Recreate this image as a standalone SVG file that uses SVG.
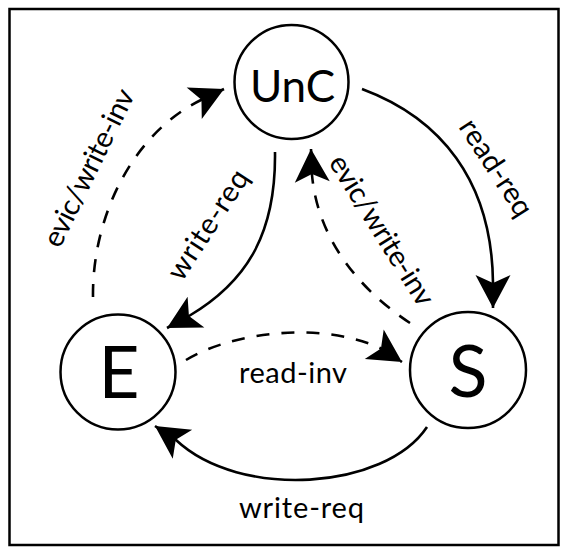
<svg xmlns="http://www.w3.org/2000/svg" width="567" height="548" viewBox="0 0 567 548">
  <style>
    .node { fill: #fff; stroke: #000; stroke-width: 2.5; }
    .ntext { font-family: "Lato", "Open Sans", sans-serif; fill: #000; text-anchor: middle; }
    .edge { fill: none; stroke: #000; stroke-width: 2.6; marker-end: url(#arrow); }
    .dash { stroke-dasharray: 13 12; }
    .label { font-family: "Lato", "Open Sans", sans-serif; font-size: 29px; fill: #000; text-anchor: middle; }
  </style>
  <defs>
    <marker id="arrow" markerUnits="userSpaceOnUse" viewBox="-35 -20 37 40" markerWidth="37" markerHeight="40" refX="0" refY="0" orient="auto">
      <path d="M0,0 L-33,-17.5 L-25,0 L-33,17.5 Z" fill="#000" stroke="none"/>
    </marker>
  </defs>
  <rect x="9.5" y="9" width="549" height="536" fill="#fff" stroke="#000" stroke-width="2.5"/>

  <g id="connectors">
    <path id="e-unc" class="edge dash" d="M93,297 C92,220 130,135 201,100 L224,89"/>
    <path id="unc-e" class="edge" d="M275,152 C276,230 250,280 189,316 L167,328"/>
    <path id="unc-s" class="edge" d="M362,89 C440,118 492,180 493,283 L493,308"/>
    <path id="s-unc" class="edge dash" d="M410,323 C360,290 318,240 312,175 L311,149"/>
    <path id="e-s" class="edge dash" d="M186,360 C230,333 320,320 381,348.5 L402,362"/>
    <path id="s-e" class="edge" d="M427,427 C385,490 240,500 176,440 L155,426"/>
    <text class="label" transform="translate(97.5,172) rotate(-64)" textLength="172" lengthAdjust="spacing">evic/write-inv</text>
    <text class="label" transform="translate(216,230) rotate(-57)" textLength="125" lengthAdjust="spacing">write-req</text>
    <text class="label" transform="translate(488,173) rotate(57)" textLength="110" lengthAdjust="spacing">read-req</text>
    <text class="label" transform="translate(373.5,235.5) rotate(58)" textLength="172" lengthAdjust="spacing">evic/write-inv</text>
    <text class="label" x="293" y="383" textLength="108" lengthAdjust="spacing">read-inv</text>
    <text class="label" x="301.5" y="518" textLength="125" lengthAdjust="spacing">write-req</text>
  </g>

  <g id="node-unc">
    <circle class="node" cx="291.5" cy="82" r="57"/>
    <text class="ntext" x="292.5" y="102" font-size="44">UnC</text>
  </g>
  <g id="node-e">
    <circle class="node" cx="118" cy="372" r="57.5"/>
    <text class="ntext" x="119" y="398" font-size="71">E</text>
  </g>
  <g id="node-s">
    <circle class="node" cx="468" cy="370" r="58"/>
    <text class="ntext" x="468" y="397" font-size="72">S</text>
  </g>
</svg>
